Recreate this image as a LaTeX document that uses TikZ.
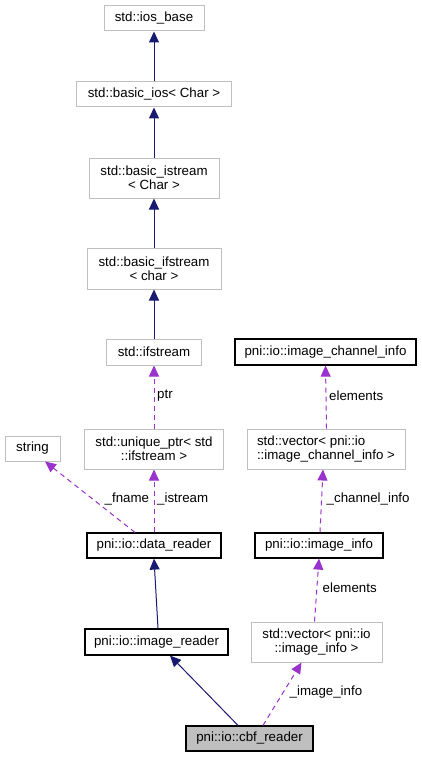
\documentclass[tikz,border=0pt]{standalone}
\usepackage{fontspec}
\setmainfont{Liberation Sans}
\usetikzlibrary{arrows.meta}
\definecolor{inhcol}{HTML}{191970}
\definecolor{usecol}{HTML}{9A32CD}
\definecolor{graybd}{HTML}{BFBFBF}
\begin{document}
\begin{tikzpicture}[x=1pt,y=-1pt,
  every node/.style={font=\fontsize{13.3}{14}\selectfont, inner sep=0pt},
  gbox/.style={draw=graybd, line width=1pt, fill=white, align=center},
  bbox/.style={draw=black, line width=1.2pt, fill=white, align=center},
  inh/.style={draw=inhcol, line width=1pt, -{Triangle[length=11pt,width=10pt]}},
  use/.style={draw=usecol, line width=1pt, dash pattern=on 5pt off 4pt, -{Triangle[length=11pt,width=10pt]}},
  lbl/.style={anchor=west, text=black}]
\useasboundingbox (0,0) rectangle (421,757);
\fill[white] (0,0) rectangle (421,757);
\node[gbox, minimum width=100pt, minimum height=25pt] (iosbase) at (154,18.5) {std::ios\_base};
\node[gbox, minimum width=155pt, minimum height=25pt] (basicios) at (154,94.5) {std::basic\_ios{\textless} Char {\textgreater}};
\node[gbox, minimum width=130pt, minimum height=40pt] (istream) at (154,178) {std::basic\_istream\\{\textless} Char {\textgreater}};
\node[gbox, minimum width=134pt, minimum height=41pt] (bifstream) at (154,268.5) {std::basic\_ifstream\\{\textless} char {\textgreater}};
\node[gbox, minimum width=95pt, minimum height=26pt] (ifstream) at (154,352) {std::ifstream};
\node[bbox, minimum width=181pt, minimum height=26pt] (chaninfo) at (325.5,352) {pni::io::image\_channel\_info};
\node[gbox, minimum width=55pt, minimum height=25pt] (string) at (32.5,448.5) {string};
\node[gbox, minimum width=139pt, minimum height=40pt] (uptr) at (154,449) {std::unique\_ptr{\textless} std\\::ifstream {\textgreater}};
\node[gbox, minimum width=158pt, minimum height=40pt, align=left] (vecchan) at (326,449) {std::vector{\textless} pni::io\\::image\_channel\_info {\textgreater}};
\node[bbox, minimum width=134pt, minimum height=25pt] (dreader) at (154,545.5) {pni::io::data\_reader};
\node[bbox, minimum width=128pt, minimum height=25pt] (iinfo) at (319,545.5) {pni::io::image\_info};
\node[bbox, minimum width=143pt, minimum height=26pt] (ireader) at (156.5,642) {pni::io::image\_reader};
\node[gbox, minimum width=131pt, minimum height=40pt] (vecinfo) at (316.5,642) {std::vector{\textless} pni::io\\::image\_info {\textgreater}};
\node[draw=black, line width=1.2pt, fill=graybd, minimum width=127pt, minimum height=25pt] (cbf) at (249.5,738.5) {pni::io::cbf\_reader};
% inheritance
\draw[inh] (basicios) -- (iosbase);
\draw[inh] (istream) -- (basicios);
\draw[inh] (bifstream) -- (istream);
\draw[inh] (ifstream) -- (bifstream);
\draw[inh] ([xshift=1.5pt]ireader.north) -- (dreader.south);
\draw[inh] ([xshift=-11.5pt]cbf.north) -- ([xshift=13.5pt]ireader.south);
% usage
\draw[use] (uptr) -- (ifstream);
\draw[use] (dreader) -- (uptr);
\draw[use] ([xshift=-19pt]dreader.north) -- ([xshift=12.5pt]string.south);
\draw[use] ([xshift=0.5pt]vecchan.north) -- (chaninfo.south);
\draw[use] ([xshift=1pt]iinfo.north) -- ([xshift=-3pt]vecchan.south);
\draw[use] ([xshift=-2pt]vecinfo.north) -- (iinfo.south);
\draw[use] ([xshift=13.5pt]cbf.north) -- ([xshift=-15pt]vecinfo.south);
% labels
\node[lbl] (lptr) at (157,396) {ptr};
\node[lbl] (lel1) at (329,396) {elements};
\node[lbl] (lfname) at (104.5,499) {\_fname};
\node[lbl] (listream) at (157,499) {\_istream};
\node[lbl] (lchan) at (326.5,499) {\_channel\_info};
\node[lbl] (lel2) at (322.5,588) {elements};
\node[lbl] (limg) at (289.5,692) {\_image\_info};
\end{tikzpicture}
\end{document}
